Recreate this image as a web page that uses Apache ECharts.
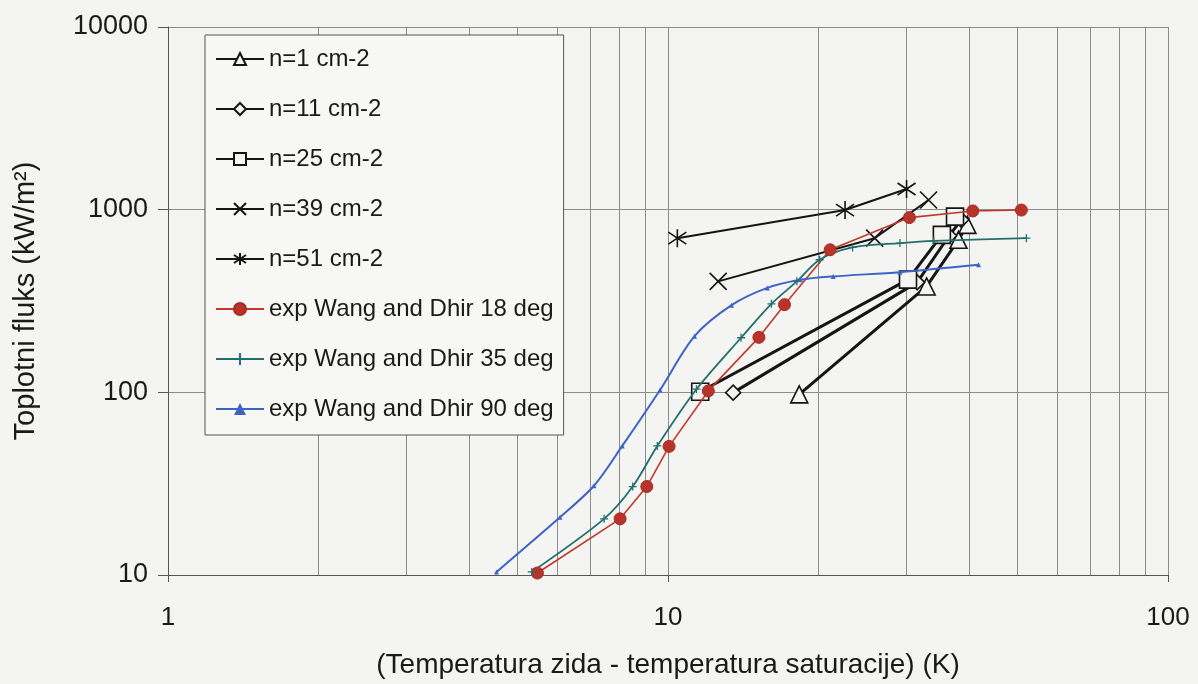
<!DOCTYPE html>
<html>
<head>
<meta charset="utf-8">
<script src="https://cdn.jsdelivr.net/npm/echarts@6/dist/echarts.min.js"></script>
<style>
html,body{margin:0;padding:0;background:#f4f4f2;}
#c{width:1198px;height:684px;}
</style>
</head>
<body>
<div id="c"></div>
<script>
// ---- data (x = wall superheat K, y = heat flux kW/m2) ----
var n1  = [[18.3,97.5],[32.9,380],[38.1,684],[39.7,826]];
var n11 = [[13.5,99.6],[31.5,400],[36.5,720],[38.6,880]];
var n25 = [[11.6,100.7],[30.2,414],[35.3,728],[37.5,916]];
var n39 = [[12.6,405],[25.9,698],[33.2,1130]];
var n51 = [[10.44,698],[22.6,995],[30.0,1297]];
var exp18 = [[5.48,10.25],[8.02,20.3],[9.07,30.5],[10.05,50.6],[12.04,101.8],[15.2,200],[17.1,302],[21.1,603],[30.4,905],[40.7,984],[50.9,995]];
var exp35 = [[5.34,10.4],[7.45,20.3],[8.5,30.5],[9.52,50.9],[11.4,104],[14.0,199],[16.1,305],[18.1,405],[20.1,532],[23.4,621],[29.1,656],[34.0,675],[52.1,698]];
var exp90 = [[4.54,10.4],[6.08,20.7],[7.11,30.8],[8.1,50.9],[9.64,103],[11.3,203],[13.4,300],[15.8,373],[18.4,413],[21.4,431],[29.1,455],[41.8,499]];
var seriesNames = ['n=1 cm-2','n=11 cm-2','n=25 cm-2','n=39 cm-2','n=51 cm-2','exp Wang and Dhir 18 deg','exp Wang and Dhir 35 deg','exp Wang and Dhir 90 deg'];
var xGridValues = [2,3,4,5,6,7,8,9,20,30,40,50,60,70,80,90];
var xTicks = [1,10,100];
var yTicks = [10,100,1000,10000];

var BG = '#f4f4f2';
var FONT = 'Liberation Sans, Arial, sans-serif';
var xMark = 'path://M0,0L10,10M10,0L0,10';
var starMark = 'path://M0,1L10,9M10,1L0,9M5,-1L5,11';
var plusMark = 'path://M0,5L10,5M5,0L5,10';

function blackSeries(name, data, symbol, size, width, hollow){
  return {
    name: name, type: 'line', data: data, z: 5,
    symbol: symbol, symbolSize: size, showAllSymbol: true,
    lineStyle: {color: '#151515', width: width},
    itemStyle: {color: hollow ? BG : '#151515', borderColor: '#151515', borderWidth: 1.6}
  };
}

var chart = echarts.init(document.getElementById('c'), null, {renderer: 'canvas'});
chart.setOption({
  backgroundColor: BG,
  animation: false,
  textStyle: {fontFamily: FONT},
  grid: {left: 168, right: 30, top: 27, bottom: 102, show: false},
  legend: {
    orient: 'vertical', left: 205, top: 35,
    data: seriesNames,
    padding: [12, 10, 14, 10],
    itemGap: 26,
    itemWidth: 48, itemHeight: 15,
    backgroundColor: '#f7f7f5',
    borderColor: '#555', borderWidth: 1, borderRadius: 0,
    textStyle: {fontSize: 24, color: '#1a1a1a', fontFamily: FONT},
    z: 20
  },
  xAxis: {
    type: 'log', logBase: 10, min: 1, max: 100,
    axisLine: {show: true, lineStyle: {color: '#555', width: 1}},
    axisTick: {show: true, inside: false, length: 7, lineStyle: {color: '#555'}},
    axisLabel: {fontSize: 26, color: '#1a1a1a', margin: 30, fontFamily: FONT,
      formatter: function(v){ return xTicks.indexOf(Math.round(v)) >= 0 ? String(Math.round(v)) : ''; }},
    splitLine: {show: true, lineStyle: {color: '#8c8c8c', width: 1}},
    name: '(Temperatura zida - temperatura saturacije) (K)',
    nameLocation: 'middle', nameGap: 76,
    nameTextStyle: {fontSize: 28, color: '#1a1a1a', fontFamily: FONT}
  },
  yAxis: {
    type: 'log', logBase: 10, min: 10, max: 10000,
    axisLine: {show: true, lineStyle: {color: '#555', width: 1}},
    axisTick: {show: true, inside: false, length: 10, lineStyle: {color: '#555'}},
    axisLabel: {fontSize: 27, color: '#1a1a1a', margin: 20, fontFamily: FONT,
      formatter: function(v){ return yTicks.indexOf(Math.round(v)) >= 0 ? String(Math.round(v)) : ''; }},
    splitLine: {show: true, lineStyle: {color: '#8c8c8c', width: 1}},
    name: 'Toplotni fluks (kW/m²)',
    nameLocation: 'middle', nameGap: 128, nameRotate: 90,
    nameTextStyle: {fontSize: 29, color: '#1a1a1a', fontFamily: FONT}
  },
  series: [
    {
      name: 'grid-minor', type: 'line', data: [], z: 1, silent: true,
      markLine: {
        silent: true, symbol: 'none', animation: false,
        label: {show: false},
        lineStyle: {color: '#8c8c8c', width: 1, type: 'solid'},
        data: xGridValues.map(function(v){ return {xAxis: v}; })
      }
    },
    blackSeries(seriesNames[0], n1, 'triangle', 17, 3, true),
    blackSeries(seriesNames[1], n11, 'diamond', 15, 3, true),
    blackSeries(seriesNames[2], n25, 'rect', 17, 3, true),
    blackSeries(seriesNames[3], n39, xMark, 17, 2, false),
    blackSeries(seriesNames[4], n51, starMark, 18, 2, false),
    {
      name: seriesNames[5], type: 'line', data: exp18, z: 6,
      symbol: 'circle', symbolSize: 12, showAllSymbol: true,
      lineStyle: {color: '#c0392b', width: 1.6},
      itemStyle: {color: '#b8332a', borderColor: '#a82a22', borderWidth: 1}
    },
    {
      name: seriesNames[6], type: 'line', data: exp35, z: 6, smooth: 0.3,
      symbol: plusMark, symbolSize: 8, showAllSymbol: true,
      lineStyle: {color: '#246f6c', width: 1.8},
      itemStyle: {color: '#246f6c', borderColor: '#246f6c', borderWidth: 1.3}
    },
    {
      name: seriesNames[7], type: 'line', data: exp90, z: 6, smooth: 0.3,
      symbol: 'triangle', symbolSize: 5, showAllSymbol: true,
      lineStyle: {color: '#3d63c4', width: 2},
      itemStyle: {color: '#3d63c4'}
    }
  ]
});
</script>
</body>
</html>
